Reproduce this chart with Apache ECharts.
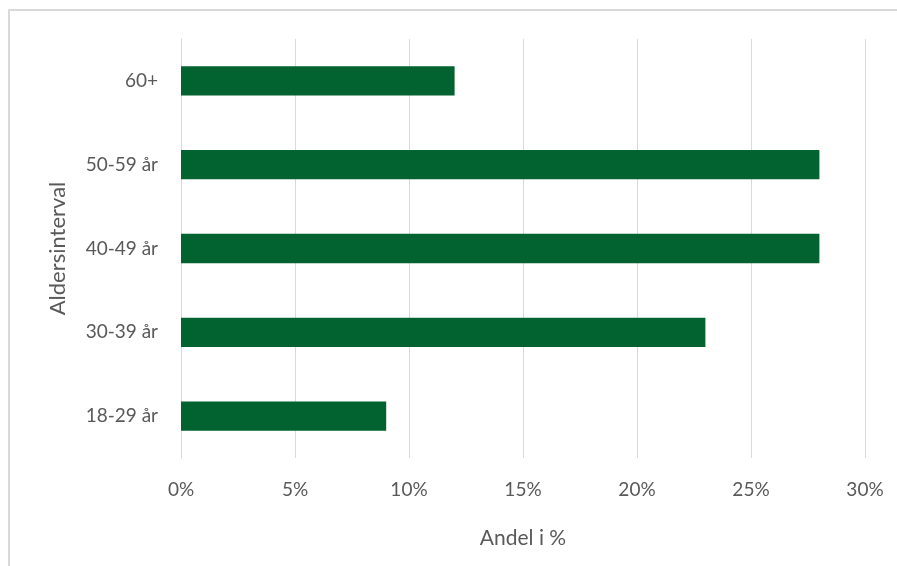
<!DOCTYPE html>
<html>
<head>
<meta charset="utf-8">
<script src="https://cdn.jsdelivr.net/npm/echarts@6/dist/echarts.min.js"></script>
<style>
  html, body { margin: 0; padding: 0; background: #fff; }
  #chart { width: 897px; height: 566px; }
</style>
</head>
<body>
<div id="chart"></div>
<script>
// Age groups (bottom to top) and their share in percent
const categories = ['18-29 år', '30-39 år', '40-49 år', '50-59 år', '60+'];
const shares = [9, 23, 28, 28, 12];
const xTicks = { min: 0, max: 30, interval: 5 };

const FONT = 'Lato, "Open Sans", sans-serif';
const chart = echarts.init(document.getElementById('chart'));

chart.setOption({
  backgroundColor: '#ffffff',
  animation: false,
  graphic: [{
    type: 'rect',
    shape: { x: 9, y: 10, width: 900, height: 570 },
    style: { fill: 'none', stroke: '#d9d9d9', lineWidth: 2 },
    silent: true
  }],
  grid: { left: 181, right: 32, top: 39, bottom: 108, containLabel: false },
  xAxis: {
    type: 'value',
    min: xTicks.min,
    max: xTicks.max,
    interval: xTicks.interval,
    name: 'Andel i %',
    nameLocation: 'middle',
    nameGap: 70,
    nameTextStyle: { color: '#595959', fontSize: 21, fontFamily: FONT },
    axisLine: { show: false },
    axisTick: { show: false },
    axisLabel: {
      color: '#595959', fontSize: 19, fontFamily: FONT, margin: 22,
      formatter: v => v + '%'
    },
    splitLine: { show: true, lineStyle: { color: '#d9d9d9', width: 1 } }
  },
  yAxis: {
    type: 'category',
    data: categories,
    name: 'Aldersinterval',
    nameLocation: 'middle',
    nameGap: 112,
    nameRotate: 90,
    nameTextStyle: { color: '#595959', fontSize: 22, fontFamily: FONT },
    axisLine: { show: true, lineStyle: { color: '#d9d9d9', width: 1 } },
    axisTick: { show: false },
    axisLabel: { color: '#595959', fontSize: 19, fontFamily: FONT, margin: 23 },
    splitLine: { show: false }
  },
  series: [{
    type: 'bar',
    data: shares,
    barCategoryGap: '65%',
    itemStyle: { color: '#036330' },
    emphasis: { disabled: true }
  }]
});
</script>
</body>
</html>
